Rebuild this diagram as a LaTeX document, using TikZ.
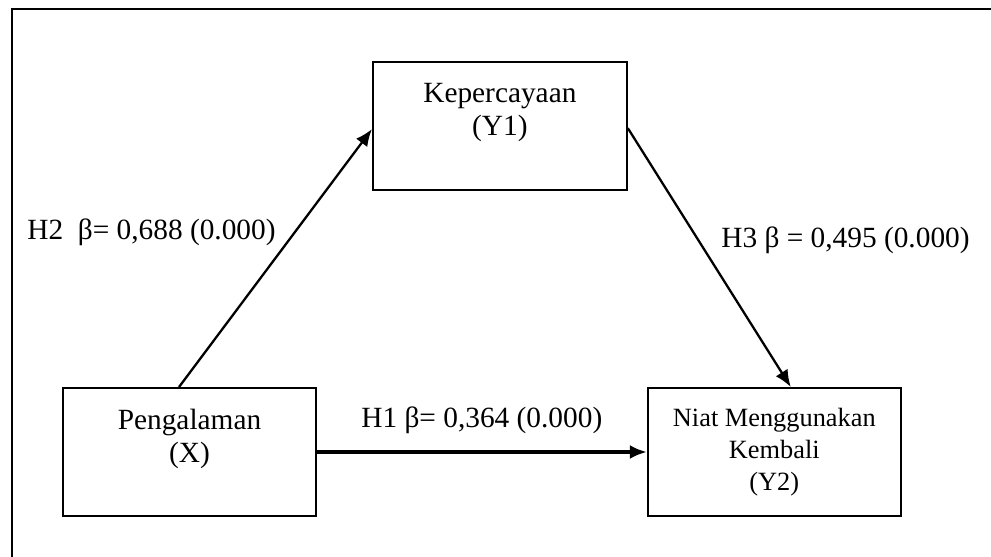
\documentclass[tikz,border=0pt]{standalone}
\usepackage{fontspec}
\setmainfont{Liberation Serif}
\usetikzlibrary{arrows.meta,positioning}
\definecolor{ink}{HTML}{000000}
\tikzset{
  >={Latex[length=3.4mm,width=2.8mm]},
  every node/.style={font=\fontsize{16.7}{18.8}\selectfont,text=ink},
  box/.style={draw=ink,line width=1.1pt,minimum width=5.06cm,minimum height=2.56cm,align=center,inner sep=0pt},
  smallbox/.style={box,font=\fontsize{15}{18.3}\selectfont},
  arrow/.style={->,line width=1.3pt,draw=ink},
  mainarrow/.style={arrow,line width=2pt},
  frame/.style={line width=1.2pt,draw=ink},
  coef/.style={anchor=base west,inner sep=0pt},
}

\begin{document}
\begin{tikzpicture}[x=0.02cm,y=-0.02cm]
\useasboundingbox (0,0) rectangle (991,557);
\draw[frame] (991,9) -- (12,9) -- (12,557);

\node[box] (x) at (189.5,452) {Pengalaman\\(X)\\\mbox{}};
\node[smallbox,right=6.6cm of x] (y2) {Niat Menggunakan\\Kembali\\(Y2)};
\node[box,minimum width=5.08cm,above right=3.92cm and 1.1cm of x] (y1) {Kepercayaan\\(Y1)\\\mbox{}};

\draw[arrow] ([xshift=-0.21cm]x.north) -- ([yshift=-0.06cm]y1.west);
\draw[arrow] ([yshift=-0.04cm]y1.east) -- ([xshift=0.33cm]y2.north);
\draw[mainarrow] (x) -- (y2);

\node[coef] (h2) at (27,240) {H2~~β= 0,688 (0.000)};
\node[coef] (h3) at (721,248) {H3 β = 0,495 (0.000)};
\node[coef] (h1) at (361,427) {H1 β= 0,364 (0.000)};

\end{tikzpicture}
\end{document}
